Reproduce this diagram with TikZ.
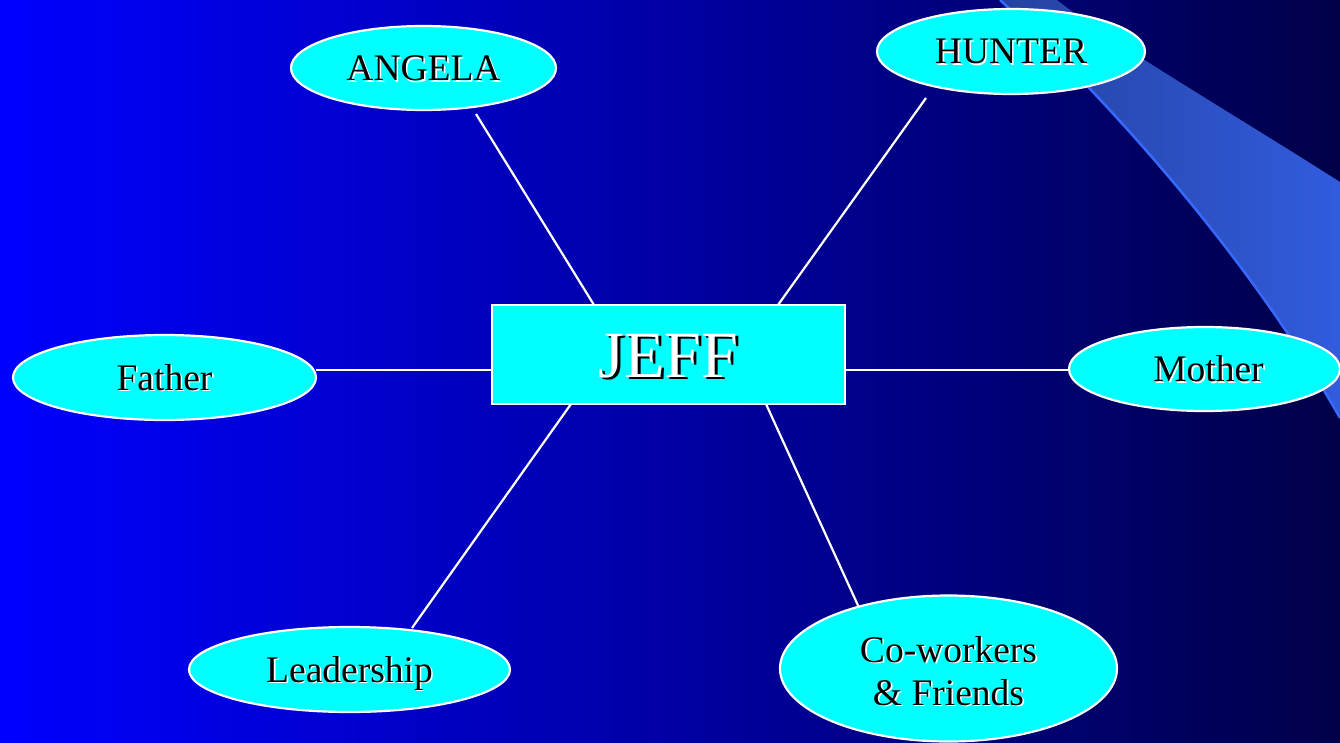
\documentclass[tikz,border=0pt]{standalone}
\usepackage{fontspec}
\setmainfont{Liberation Serif}
\usetikzlibrary{shapes.geometric}
\definecolor{bgL}{RGB}{0,0,255}
\definecolor{bgR}{RGB}{0,0,72}
\definecolor{aqua}{RGB}{0,255,255}
\definecolor{swL}{RGB}{36,66,160}
\definecolor{swR}{RGB}{50,92,222}
\definecolor{swEdge}{RGB}{55,105,255}
\newcommand\stxt[1]{\makebox[0pt][l]{\hspace{1.6bp}\raisebox{-1.6bp}{\color{white}#1}}#1}
\newcommand\jtxt[1]{\makebox[0pt][l]{\hspace{2.6bp}\raisebox{-2.6bp}{\color{black}#1}}{\color{white}#1}}
\tikzset{
  bubble/.style={ellipse, draw=white, line width=2.2bp, fill=aqua, inner sep=0pt,
    text=black, font=\fontsize{37.5bp}{43bp}\selectfont},
  centerbox/.style={rectangle, draw=white, line width=2.2bp, fill=aqua, inner sep=0pt,
    minimum width=353bp, minimum height=99bp, font=\fontsize{66bp}{70bp}\selectfont},
  link/.style={draw=white, line width=2.2bp}
}
\begin{document}
\begin{tikzpicture}[x=1bp,y=-1bp]
  \useasboundingbox (0,0) rectangle (1340,742);
  \shade[left color=bgL, right color=bgR] (0,0) rectangle (1340,742);
  % swoosh
  \shade[left color=swL, right color=swR]
    (1000,0) -- (1057,0) .. controls (1110,42) and (1230,112) .. (1340,182)
    -- (1340,418) .. controls (1245,250) and (1100,92) .. (1000,0) -- cycle;
  \draw[swEdge, line width=2.5bp] (1340,418) .. controls (1245,250) and (1100,92) .. (1000,0);

  % connector end points
  \coordinate (a1) at (476,114);  \coordinate (a2) at (594,305);
  \coordinate (h1) at (926,98);   \coordinate (h2) at (778,305);
  \coordinate (f1) at (316,370);  \coordinate (f2) at (492,370);
  \coordinate (m1) at (845,370);  \coordinate (m2) at (1069,370);
  \coordinate (l1) at (571,404);  \coordinate (l2) at (412,628);
  \coordinate (c1) at (766,404);  \coordinate (c2) at (861,612);
  \draw[link] (a1) -- (a2);
  \draw[link] (h1) -- (h2);
  \draw[link] (f1) -- (f2);
  \draw[link] (m1) -- (m2);
  \draw[link] (l1) -- (l2);
  \draw[link] (c1) -- (c2);

  \node[centerbox, text height=45bp, text depth=0pt] (jeff) at (668.5,354.5) {\jtxt{JEFF}};
  \node[bubble, minimum width=265bp, minimum height=84bp, text height=25bp, text depth=0pt] (angela) at (423.5,68) {\stxt{ANGELA}};
  \node[bubble, minimum width=268bp, minimum height=85bp, text height=25bp, text depth=0pt] (hunter) at (1011,51.5) {\stxt{HUNTER}};
  \node[bubble, minimum width=303bp, minimum height=85bp, text height=25bp, text depth=0pt] (father) at (164.5,377.5) {\stxt{Father}};
  \node[bubble, minimum width=271bp, minimum height=84bp, text height=25bp, text depth=0pt] (mother) at (1204.5,369) {\hspace{8bp}\stxt{Mother}};
  \node[bubble, minimum width=321bp, minimum height=85bp, text height=25bp, text depth=0pt] (leader) at (349.5,669.5) {\stxt{Leadership}};
  \node[bubble, minimum width=337bp, minimum height=146bp] (cowork) at (948.5,668.5) {};
  \node[text=black, font=\fontsize{37.5bp}{43bp}\selectfont, inner sep=0pt, anchor=base] (cwtext1) at (948.5,662) {\stxt{Co-workers}};
  \node[text=black, font=\fontsize{37.5bp}{43bp}\selectfont, inner sep=0pt, anchor=base] (cwtext2) at (948.5,705) {\stxt{\& Friends}};
\end{tikzpicture}
\end{document}
